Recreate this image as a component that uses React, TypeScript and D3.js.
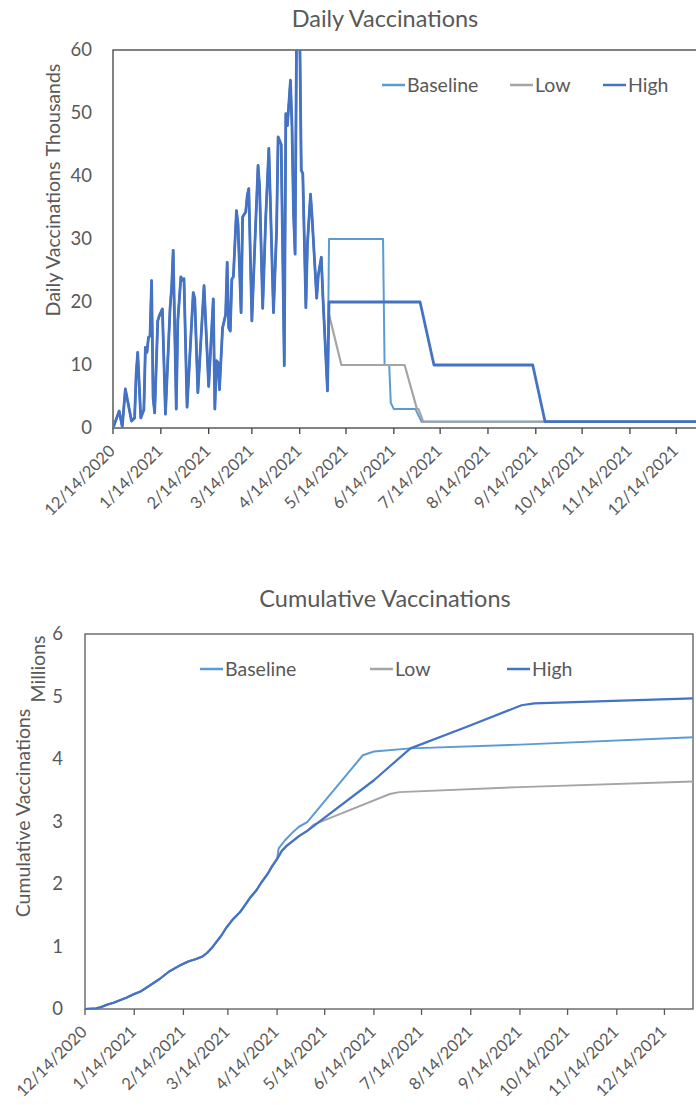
import React from "react";
import * as d3 from "d3";

// ---------- data ----------
const startLabel = "12/14/2020";
const endDay = 383; // days after start that the series run to

const tickLabels = [
  "12/14/2020", "1/14/2021", "2/14/2021", "3/14/2021", "4/14/2021", "5/14/2021",
  "6/14/2021", "7/14/2021", "8/14/2021", "9/14/2021", "10/14/2021", "11/14/2021", "12/14/2021",
];
const seriesNames = ["Baseline", "Low", "High"];
const seriesColors = ["#5B9BD5", "#A5A5A5", "#4472C4"];

// Daily vaccinations (thousands), observed history: day offset / value
const histDay = [
  0, 4, 6, 8, 12, 14, 15, 16, 18, 20, 21, 22, 23, 24, 25, 26, 27, 29, 30, 32, 34, 37, 38, 39,
  41, 42, 44, 45, 46, 48, 52, 53, 55, 59, 62, 65, 66, 67, 68, 69, 71, 73, 74, 75, 76, 77, 78,
  80, 81, 83, 84, 86, 87, 88, 90, 92, 94, 95, 97, 99, 101, 104, 106, 107, 109, 111, 112, 113,
  115, 116, 117, 118, 119, 121, 122, 123, 125, 126, 128, 129, 132, 133, 135, 136, 139,
];
const histVal = [
  0, 2.7, 0.2, 6.2, 1.1, 1.6, 8.5, 12.0, 1.6, 2.9, 12.8, 12.0, 14.4, 14.6, 23.4, 4.8, 2.4, 17.0,
  17.8, 18.9, 2.2, 19.1, 22.3, 28.2, 3.0, 17.0, 24.0, 23.4, 23.7, 3.3, 21.5, 20.5, 5.6, 22.6,
  6.6, 20.5, 3.0, 10.7, 10.4, 6.1, 15.9, 18.0, 26.3, 15.9, 15.4, 23.6, 24.0, 34.5, 32.4, 18.3,
  33.5, 34.3, 36.9, 38.0, 17.0, 29.6, 41.7, 38.3, 19.0, 33.5, 44.4, 18.3, 31.3, 46.2, 45.0, 9.9,
  49.9, 48.0, 55.2, 47.9, 34.0, 27.6, 64, 63, 40.9, 40.4, 19.1, 29.2, 37.1, 33.5, 20.6, 24.2,
  27.1, 21.0, 5.9,
];
// Daily projections (thousands)
const baseDay = [140, 175, 176, 179, 180, 182, 196, 200, endDay];
const baseVal = [30, 30, 10, 10, 4, 3, 3, 1, 1];
const lowDay = [140, 148, 189, 197, 198, 201, endDay];
const lowVal = [18, 10, 10, 3, 3, 1, 1];
const highDay = [140, 199, 208, 272, 280, endDay];
const highVal = [20, 20, 10, 10, 1, 1];

// Cumulative vaccinations (millions)
const cumHistDay = [0, 7, 10, 14, 18, 22, 26, 31, 35, 41, 47, 53, 60, 65, 70, 74, 77, 80, 83, 86, 89, 93, 98, 101, 104, 108, 111, 115, 118, 121];
const cumHistVal = [0, 0.01, 0.03, 0.07, 0.1, 0.14, 0.18, 0.24, 0.28, 0.38, 0.48, 0.6, 0.7, 0.76, 0.8, 0.84, 0.9, 0.98, 1.08, 1.18, 1.3, 1.43, 1.56, 1.67, 1.78, 1.9, 2.02, 2.16, 2.29, 2.4];
const cumBaseDay = [122, 126, 131, 135, 140, 175, 182, 205, 274, endDay];
const cumBaseVal = [2.57, 2.7, 2.83, 2.92, 2.99, 4.06, 4.12, 4.17, 4.23, 4.35];
const cumLowDay = [124, 127, 131, 135, 140, 144, 192, 198, 274, endDay];
const cumLowVal = [2.53, 2.61, 2.69, 2.77, 2.85, 2.95, 3.44, 3.47, 3.55, 3.64];
const cumHighDay = [124, 127, 131, 135, 140, 182, 205, 241, 275, 283, endDay];
const cumHighVal = [2.53, 2.61, 2.69, 2.77, 2.85, 3.66, 4.17, 4.52, 4.86, 4.89, 4.97];

const dailyTicks = [0, 10, 20, 30, 40, 50, 60];
const cumTicks = [0, 1, 2, 3, 4, 5, 6];

// ---------- helpers ----------
const parse = d3.timeParse("%m/%d/%Y");
const start = parse(startLabel) as Date;
const dayDate = (n: number) => d3.timeDay.offset(start, n);
const endDate = dayDate(endDay);

type P = { d: Date; v: number };
const pts = (days: number[], vals: number[]): P[] => days.map((d, i) => ({ d: dayDate(d), v: vals[i] }));

const FONT = "Lato, 'Open Sans', sans-serif";
const TXT = "#595959";

function Chart(props: {
  title: string;
  titleY: number;
  left: number;
  right: number;
  top: number;
  bottom: number;
  yMax: number;
  yTicks: number[];
  yLabelX: number;
  axisTitle: string;
  axisTitleX: number;
  axisTitleY: number;
  unit: string;
  unitX: number;
  unitY: number;
  legendY: number;
  legendX: number[];
  series: P[][];
  widths: number[];
  id: string;
  frameColor: string;
}) {
  const x = d3.scaleTime().domain([start, endDate]).range([props.left, props.right]);
  const y = d3.scaleLinear().domain([0, props.yMax]).range([props.bottom, props.top]);
  const line = d3
    .line<P>()
    .x((p) => x(p.d))
    .y((p) => y(p.v));
  const ticks = tickLabels.map((t) => parse(t) as Date);
  return (
    <g fontFamily={FONT} fill={TXT}>
      <text x={385} y={props.titleY} textAnchor="middle" fontSize={23.5}>
        {props.title}
      </text>
      <defs>
        <clipPath id={props.id}>
          <rect x={props.left} y={props.top} width={props.right - props.left} height={props.bottom - props.top + 10} />
        </clipPath>
      </defs>
      <rect
        x={props.left}
        y={props.top}
        width={props.right - props.left}
        height={props.bottom - props.top}
        fill="none"
        stroke={props.frameColor}
        strokeWidth={1.3}
      />
      {props.yTicks.map((t) => (
        <text key={t} x={props.yLabelX} y={y(t)} dy="0.35em" textAnchor="end" fontSize={18.5}>
          {t}
        </text>
      ))}
      {ticks.map((t, i) => (
        <g key={i}>
          <line x1={x(t)} x2={x(t)} y1={props.bottom} y2={props.bottom + 6} stroke={props.frameColor} strokeWidth={1.3} />
          <text
            transform={`translate(${x(t) + 3},${props.bottom + 24}) rotate(-45)`}
            textAnchor="end"
            fontSize={16.5}
          >
            {tickLabels[i]}
          </text>
        </g>
      ))}
      <text
        transform={`translate(${props.axisTitleX},${props.axisTitleY}) rotate(-90)`}
        textAnchor="middle"
        fontSize={19.5}
      >
        {props.axisTitle}
      </text>
      <text transform={`translate(${props.unitX},${props.unitY}) rotate(-90)`} textAnchor="middle" fontSize={19.5}>
        {props.unit}
      </text>
      <g clipPath={`url(#${props.id})`}>
        {props.series.map((s, i) => (
          <path
            key={i}
            d={line(s) || ""}
            fill="none"
            stroke={seriesColors[i]}
            strokeWidth={props.widths[i]}
            strokeLinejoin="round"
          />
        ))}
      </g>
      {seriesNames.map((n, i) => (
        <g key={n}>
          <line
            x1={props.legendX[i]}
            x2={props.legendX[i] + 23}
            y1={props.legendY}
            y2={props.legendY}
            stroke={seriesColors[i]}
            strokeWidth={2.5}
          />
          <text x={props.legendX[i] + 25} y={props.legendY} dy="0.35em" fontSize={19.5}>
            {n}
          </text>
        </g>
      ))}
    </g>
  );
}

export default function App() {
  const hist = pts(histDay, histVal);
  const daily = [
    hist.concat(pts(baseDay, baseVal)),
    hist.concat(pts(lowDay, lowVal)),
    hist.concat(pts(highDay, highVal)),
  ];
  const cHist = pts(cumHistDay, cumHistVal);
  const cum = [
    cHist.concat(pts(cumBaseDay, cumBaseVal)),
    cHist.concat(pts(cumLowDay, cumLowVal)),
    cHist.concat(pts(cumHighDay, cumHighVal)),
  ];
  return (
    <svg
      width={696}
      height={1105}
      style={{ position: "absolute", left: 0, top: 0, background: "#fff", overflow: "hidden" }}
    >
      <Chart
        id="clipTop"
        title="Daily Vaccinations"
        titleY={27}
        left={113}
        right={704}
        top={50}
        bottom={428}
        yMax={60}
        yTicks={dailyTicks}
        yLabelX={92}
        axisTitle="Daily Vaccinations"
        axisTitleX={60}
        axisTitleY={239}
        unit="Thousands"
        unitX={60}
        unitY={110}
        legendY={85}
        legendX={[382, 510, 603]}
        series={daily}
        widths={[2, 2.2, 2.8]}
        frameColor="#404040"
      />
      <Chart
        id="clipBottom"
        title="Cumulative Vaccinations"
        titleY={607}
        left={85}
        right={693}
        top={634}
        bottom={1009}
        yMax={6}
        yTicks={cumTicks}
        yLabelX={63}
        axisTitle="Cumulative Vaccinations"
        axisTitleX={30}
        axisTitleY={813}
        unit="Millions"
        unitX={45}
        unitY={669}
        legendY={669}
        legendX={[200, 370, 507]}
        series={cum}
        widths={[2, 2, 2.2]}
        frameColor="#595959"
      />
    </svg>
  );
}
